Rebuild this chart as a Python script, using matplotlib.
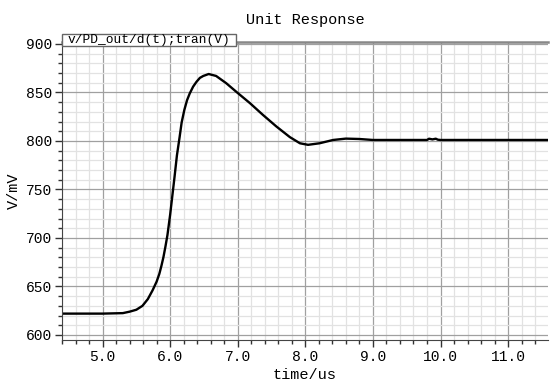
import matplotlib
matplotlib.use('Agg')
import matplotlib.pyplot as plt
from matplotlib.ticker import MultipleLocator, FormatStrFormatter
from matplotlib.patches import Rectangle

# curve (time in us, voltage in mV)
t_us = [4.40, 5.00, 5.30, 5.40, 5.50, 5.59, 5.67, 5.74, 5.80, 5.84, 5.87, 5.90, 5.93, 5.96,
        6.00, 6.03, 6.065, 6.10, 6.14, 6.17, 6.21, 6.25, 6.29, 6.34, 6.39, 6.44,
        6.49, 6.57, 6.68, 6.83, 6.99, 7.18, 7.37, 7.57, 7.77, 7.92, 8.04, 8.21,
        8.41, 8.60, 8.80, 9.00, 9.40, 9.80, 9.83, 9.88, 9.93, 9.96, 10.00, 11.59]
v_mv = [622, 622, 622.5, 624, 626, 630, 637, 646, 655, 663, 671, 680, 691, 703,
        724, 742, 763, 785, 804, 819, 832, 842, 849, 856, 861, 865,
        867, 869, 867, 859.5, 850, 839, 827, 815, 804, 797.6, 796, 797.6,
        801, 802.4, 802, 801, 801, 801, 802.3, 801.6, 802.3, 801.3, 801, 801]

title = "Unit Response"
trace_name = "v/PD_out/d(t);tran(V)"
x_ticks = [5.0, 6.0, 7.0, 8.0, 9.0, 10.0, 11.0]
y_ticks = [600, 650, 700, 750, 800, 850, 900]

plt.rcParams['font.family'] = ['Liberation Mono', 'DejaVu Sans Mono']

fig = plt.figure(figsize=(5.5, 3.81), dpi=100)
ax = fig.add_axes([62/550, 1-340/381, 486/550, 298/381])

ax.plot(t_us, v_mv, color='black', lw=1.7, solid_joinstyle='round')

ax.set_xlim(4.40, 11.59)
ax.set_ylim(594.8, 902)
ax.set_xticks(x_ticks)
ax.set_yticks(y_ticks)
ax.xaxis.set_major_formatter(FormatStrFormatter('%.1f'))
ax.xaxis.set_minor_locator(MultipleLocator(0.2))
ax.yaxis.set_minor_locator(MultipleLocator(10))

ax.grid(which='major', color='#a0a0a0', lw=0.9)
ax.grid(which='minor', color='#e2e2e2', lw=0.9)
ax.set_axisbelow(True)

ax.tick_params(which='major', direction='out', length=5, width=1, color='#333333',
               labelsize=10.5, pad=2, labelcolor='black')
ax.tick_params(which='minor', direction='out', length=3, width=1, color='#333333')

ax.spines['right'].set_visible(False)
ax.spines['top'].set_color('#888888')
ax.spines['top'].set_linewidth(1.8)
ax.spines['left'].set_color('#444444')
ax.spines['bottom'].set_color('#444444')

# trace name tab sitting on the top edge
tab = Rectangle((0.0, 1 - 4/298), 174/486, 12/298, transform=ax.transAxes,
                fc='white', ec='#666666', lw=1.0, clip_on=False, zorder=5)
ax.add_patch(tab)
ax.text(6/486, 1 + 2/298, trace_name, transform=ax.transAxes, fontsize=9.3,
        ha='left', va='center', zorder=6)

ax.set_title(title, fontsize=11, pad=13)
ax.set_xlabel("time/us", fontsize=11, labelpad=3)
ax.set_ylabel("V/mV", fontsize=11, labelpad=4)

fig.savefig('out.png', dpi=100)
